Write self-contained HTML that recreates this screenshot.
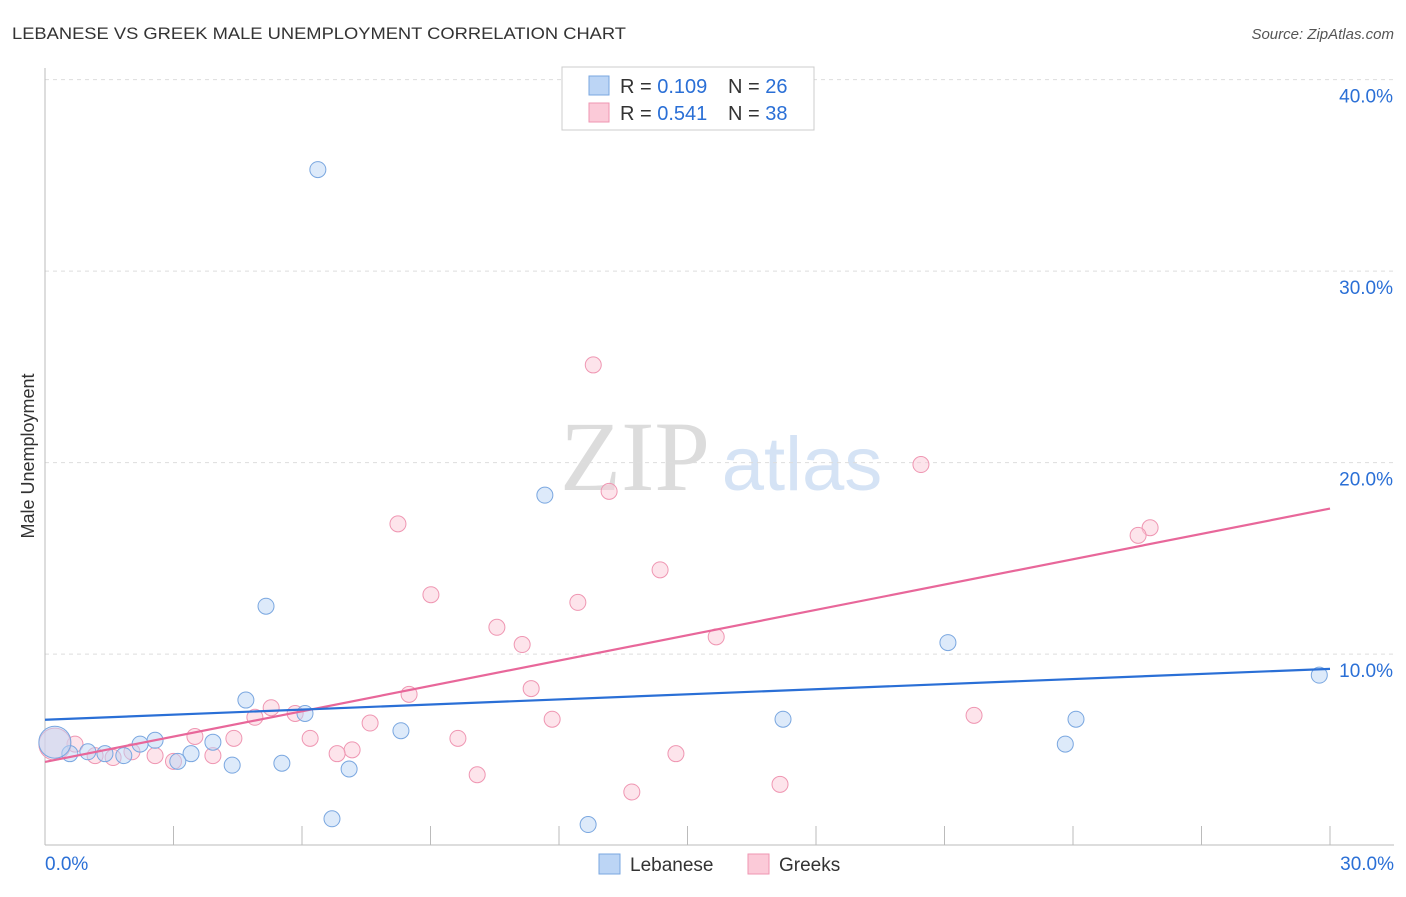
<!DOCTYPE html>
<html><head><meta charset="utf-8"><style>
body{margin:0;background:#fff;font-family:"Liberation Sans",sans-serif;}
</style></head><body>
<svg width="1406" height="892" xmlns="http://www.w3.org/2000/svg" font-family="Liberation Sans, sans-serif">
<text x="12" y="39" font-size="17" fill="#333" textLength="614" lengthAdjust="spacingAndGlyphs">LEBANESE VS GREEK MALE UNEMPLOYMENT CORRELATION CHART</text>
<text x="1394" y="39" font-size="15" fill="#555" text-anchor="end" font-style="italic">Source: ZipAtlas.com</text>
<text x="635" y="490" font-size="100" fill="#dcdcdc" style="font-family:'Liberation Serif',serif" text-anchor="middle">ZIP</text>
<text x="802" y="490" font-size="76" fill="#d5e3f5" text-anchor="middle">atlas</text>
<g id="grid"></g><g id="axes"></g><g id="marks"></g>
<text transform="translate(34,456) rotate(-90)" font-size="18" fill="#333" text-anchor="middle">Male Unemployment</text>
<g>
<rect x="562" y="67" width="252" height="63" fill="#fff" stroke="#ccc"/>
<rect x="589" y="76" width="20" height="19" fill="#bcd5f5" stroke="#7aa7e0"/>
<rect x="589" y="103" width="20" height="19" fill="#fbcad8" stroke="#ef96b2"/>
<text x="620" y="93" font-size="20" fill="#333">R = <tspan fill="#2a6fd6">0.109</tspan></text>
<text x="728" y="93" font-size="20" fill="#333">N = <tspan fill="#2a6fd6">26</tspan></text>
<text x="620" y="120" font-size="20" fill="#333">R = <tspan fill="#2a6fd6">0.541</tspan></text>
<text x="728" y="120" font-size="20" fill="#333">N = <tspan fill="#2a6fd6">38</tspan></text>
</g>
<g>
<rect x="599" y="854" width="21" height="20" fill="#bcd5f5" stroke="#7aa7e0"/>
<text x="630" y="871" font-size="19" fill="#333">Lebanese</text>
<rect x="748" y="854" width="21" height="20" fill="#fbcad8" stroke="#ef96b2"/>
<text x="779" y="871" font-size="19" fill="#333">Greeks</text>
</g>
</svg>
<script>
const blueX=[6.37,11.67,5.16,21.08,29.75,4.69,6.07,17.23,24.07,8.31,23.82,2.57,2.22,3.92,0.58,1.0,1.4,1.84,3.41,3.1,4.37,5.53,7.1,6.7,12.68,0.23];
const blueY=[35.3,18.3,12.5,10.6,8.9,7.6,6.9,6.6,6.6,6.0,5.3,5.5,5.3,5.4,4.8,4.9,4.8,4.7,4.8,4.4,4.2,4.3,4.0,1.4,1.1,5.4];
const pinkX=[12.8,20.45,13.17,25.8,25.52,8.24,14.36,9.01,12.44,10.55,11.14,15.67,11.35,8.5,21.69,11.84,5.28,5.84,4.9,7.59,6.19,4.41,9.64,3.5,7.17,6.82,14.73,3.92,2.57,2.03,1.17,0.7,3.0,1.59,10.09,17.16,13.7,0.23];
const pinkY=[25.1,19.9,18.5,16.6,16.2,16.8,14.4,13.1,12.7,11.4,10.5,10.9,8.2,7.9,6.8,6.6,7.2,6.9,6.7,6.4,5.6,5.6,5.6,5.7,5.0,4.8,4.8,4.7,4.7,4.9,4.7,5.3,4.4,4.6,3.7,3.2,2.8,5.3];
const blueTrend=[6.57,9.23];
const pinkTrend=[4.37,17.6];
const yTicks=[10,20,30,40];
const yTickLabels=["10.0%","20.0%","30.0%","40.0%"];
const xLabels=["0.0%","30.0%"];
const NS="http://www.w3.org/2000/svg";
const xs=v=>45+v*1285/30, ys=v=>845.6-v*19.15;
function mk(t,a,p){const e=document.createElementNS(NS,t);for(const k in a)e.setAttribute(k,a[k]);document.getElementById(p).appendChild(e);return e;}
yTicks.forEach((t,i)=>{
 const l=mk('line',{x1:45,x2:1394,y1:ys(t),y2:ys(t),stroke:'#ddd','stroke-dasharray':'4,4'},'grid');
 
 
 const tx=mk('text',{x:1393,y:ys(t)+23,'font-size':19,fill:'#2a6fd6','text-anchor':'end'},'grid');
 tx.textContent=yTickLabels[i];
 
 
});
let a=mk('line',{x1:45,x2:45,y1:68,y2:845,stroke:'#bbb'},'axes');


a=mk('line',{x1:45,x2:1394,y1:845,y2:845,stroke:'#bbb'},'axes');


for(let i=0;i<=10;i++){const t=mk('line',{x1:xs(i*3),x2:xs(i*3),y1:826,y2:845,stroke:'#bbb'},'axes');
 
 }
[[0,'start'],[30,'end']].forEach((d,i)=>{const t=mk('text',{x:i?1394:45,y:870,'font-size':19,fill:'#2a6fd6','text-anchor':d[1]},'axes');t.textContent=xLabels[i];
 
 });
function pts(X,Y,fill,stroke,name){X.forEach((x,i)=>{const r=i===X.length-1?16:8;const c=mk('circle',{cx:xs(x),cy:ys(Y[i]),r:r,fill:fill,'fill-opacity':0.5,stroke:stroke,'stroke-width':1},'marks');
 
 });}
pts(pinkX,pinkY,'#fbcad8','#ef96b2','greeks-point');
pts(blueX,blueY,'#bcd5f5','#7aa7e0','lebanese-point');
let tl=mk('line',{x1:xs(0),x2:xs(30),y1:ys(pinkTrend[0]),y2:ys(pinkTrend[1]),stroke:'#e8679a','stroke-width':2.2},'marks');


tl=mk('line',{x1:xs(0),x2:xs(30),y1:ys(blueTrend[0]),y2:ys(blueTrend[1]),stroke:'#2a6fd6','stroke-width':2.2},'marks');


</script>
</body></html>
